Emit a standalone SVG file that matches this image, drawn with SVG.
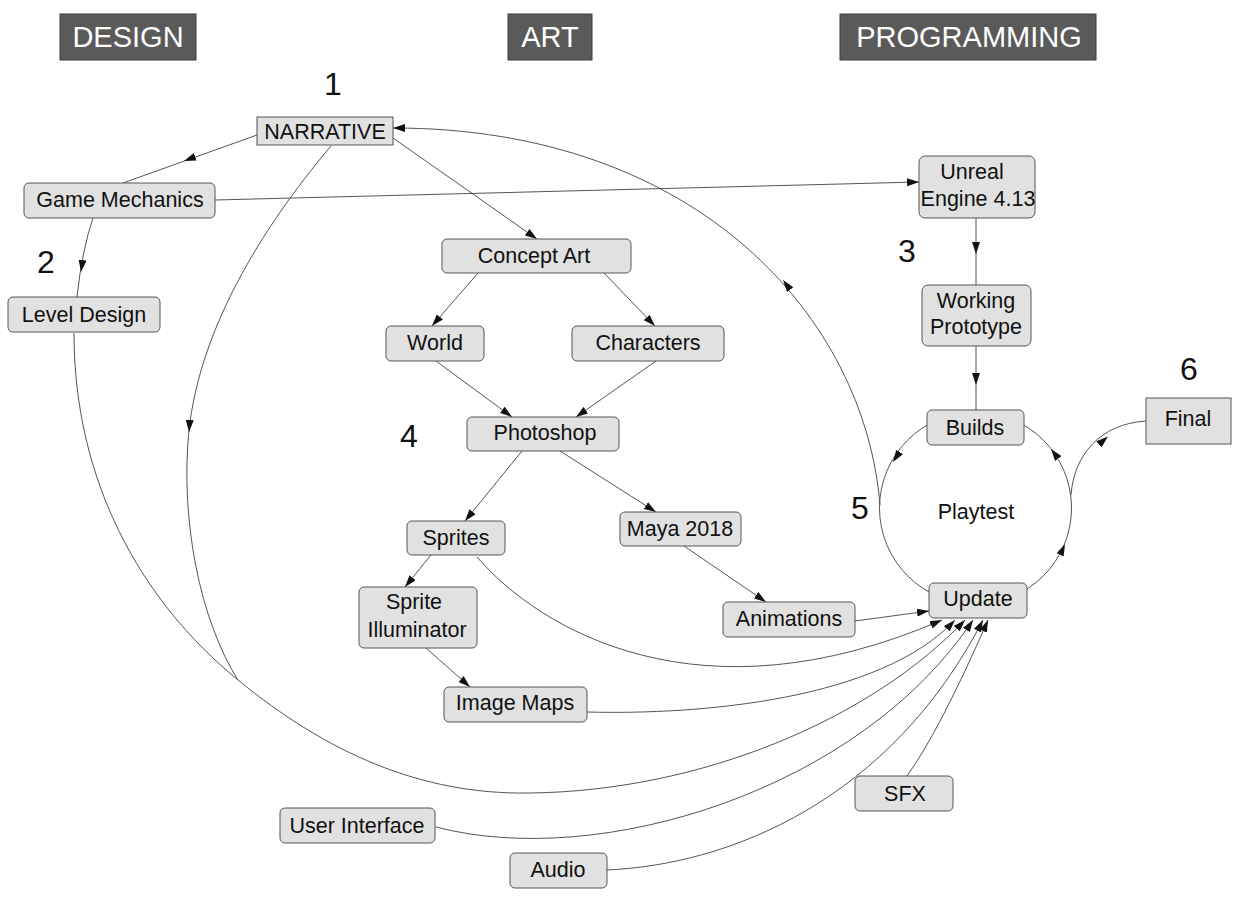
<svg xmlns="http://www.w3.org/2000/svg" width="1233" height="899" viewBox="0 0 1233 899">
<style>
text{font-family:"Liberation Sans",Arial,sans-serif;fill:#111;}
.hdr rect{fill:#5a5a5a;stroke:#3c3c3c;stroke-width:1}
.hdr text{fill:#fff;font-size:29px;text-anchor:middle}
.num{font-size:32px;text-anchor:middle}
.nd rect{fill:#e1e1e1;stroke:#555;stroke-width:1}
.nd text{font-size:21.5px;text-anchor:middle}
.c path{fill:none;stroke:#555;stroke-width:1}
.c .m{stroke:none;marker-end:url(#ah)}
.c .e{marker-end:url(#ah)}
</style>
<defs>
<marker id="ah" viewBox="0 0 12 8" refX="12" refY="4" markerWidth="12" markerHeight="8" markerUnits="userSpaceOnUse" orient="auto"><path d="M0,0 L12,4 L0,8 z" fill="#111"/></marker>
</defs>
<rect width="1233" height="899" fill="#fff"/>

<g id="connectors" class="c">
<path d="M257,135 L123,183"/><path class="m" d="M199,155.5 L184,161"/>
<path class="e" d="M393,138 L537,239"/>
<path class="e" d="M215,200 L919,182"/>
<path d="M93,218 Q82,250 77,297"/><path class="m" d="M83,257 L81,272"/>
<path d="M331,146 C260,230 200,330 189,430 C180,520 200,620 238,680"/><path class="m" d="M190,416 L189,432"/>
<path class="e" d="M74,333 C74,480 140,600 238,680 C326,752 420,795 530,793 C700,791 870,720 965,620"/>
<path class="e" d="M478,273 L432,326"/>
<path class="e" d="M604,273 L655,326"/>
<path class="e" d="M436,361 L512,417"/>
<path class="e" d="M656,361 L576,417"/>
<path class="e" d="M522,451 L465,521"/>
<path class="e" d="M560,451 L656,512"/>
<path class="e" d="M431,555 L405,587"/>
<path class="e" d="M426,648 L470,687"/>
<path class="e" d="M684,546 L766,602"/>
<path class="e" d="M855,621 L929,611"/>
<path class="e" d="M477,557 C540,630 700,725 942,620"/>
<path class="e" d="M587,712 C700,715 880,700 955,620"/>
<path class="e" d="M436,827 C600,870 860,790 973,620"/>
<path class="e" d="M606,870 C730,865 890,800 983,620"/>
<path class="e" d="M907,776 Q940,730 988,620"/>
<path d="M976,218 L976,285"/><path class="m" d="M976,238 L976,254"/>
<path d="M976,346 L976,410"/><path class="m" d="M976,368 L976,385"/>
<path d="M975.5,412 A96,96 0 0 0 975.5,604"/><path class="m" d="M900.6,450.5 L893,462"/>
<path d="M975.5,604 A96,96 0 0 0 975.5,412"/><path class="m" d="M1059.2,556.8 L1065,544"/><path class="m" d="M1059.4,460 L1051,449"/>
<path d="M1071,495 C1074,455 1100,424 1146,421"/><path class="m" d="M1097.5,445.5 L1108,436.5"/>
<path class="e" d="M880,505 C865,320 700,128 393,128"/><path class="m" d="M791.4,291.2 L783,280"/>
</g>

<g id="hdr-design" class="hdr"><rect x="60" y="14" width="136" height="46"/><text x="128" y="47">DESIGN</text></g>
<g id="hdr-art" class="hdr"><rect x="508" y="14" width="84" height="46"/><text x="550" y="47">ART</text></g>
<g id="hdr-programming" class="hdr"><rect x="840" y="14" width="256" height="46"/><text x="969" y="47">PROGRAMMING</text></g>

<g id="numbers">
<text class="num" x="333" y="95">1</text>
<text class="num" x="46" y="273">2</text>
<text class="num" x="907" y="262">3</text>
<text class="num" x="409" y="447">4</text>
<text class="num" x="860" y="519">5</text>
<text class="num" x="1189" y="380">6</text>
</g>

<g id="n-narrative" class="nd"><rect x="257" y="117" width="136" height="28"/><text x="325" y="139">NARRATIVE</text></g>
<g id="n-game-mechanics" class="nd"><rect x="24" y="183" width="191" height="35" rx="5"/><text x="120" y="207">Game Mechanics</text></g>
<g id="n-level-design" class="nd"><rect x="8" y="297" width="152" height="35" rx="5"/><text x="84" y="322">Level Design</text></g>
<g id="n-concept-art" class="nd"><rect x="442" y="239" width="189" height="34" rx="5"/><text x="534" y="263">Concept Art</text></g>
<g id="n-world" class="nd"><rect x="386" y="326" width="98" height="35" rx="5"/><text x="435" y="350">World</text></g>
<g id="n-characters" class="nd"><rect x="572" y="326" width="152" height="35" rx="5"/><text x="648" y="350">Characters</text></g>
<g id="n-photoshop" class="nd"><rect x="467" y="417" width="152" height="34" rx="5"/><text x="545" y="440">Photoshop</text></g>
<g id="n-sprites" class="nd"><rect x="407" y="521" width="98" height="34" rx="5"/><text x="456" y="545">Sprites</text></g>
<g id="n-maya" class="nd"><rect x="620" y="512" width="121" height="34" rx="5"/><text x="680" y="536">Maya 2018</text></g>
<g id="n-sprite-illuminator" class="nd"><rect x="359" y="587" width="118" height="61" rx="5"/><text x="414" y="609">Sprite</text><text x="417" y="637">Illuminator</text></g>
<g id="n-animations" class="nd"><rect x="723" y="602" width="132" height="35" rx="5"/><text x="789" y="626">Animations</text></g>
<g id="n-image-maps" class="nd"><rect x="444" y="687" width="143" height="35" rx="5"/><text x="515" y="710">Image Maps</text></g>
<g id="n-unreal" class="nd"><rect x="919" y="156" width="116" height="62" rx="6"/><text x="972" y="179">Unreal</text><text x="978" y="206">Engine 4.13</text></g>
<g id="n-working-prototype" class="nd"><rect x="922" y="285" width="109" height="61" rx="6"/><text x="976" y="308">Working</text><text x="976" y="334">Prototype</text></g>
<g id="n-builds" class="nd"><rect x="927" y="410" width="97" height="35" rx="5"/><text x="975" y="435">Builds</text></g>
<g id="n-playtest"><text x="976" y="519" style="font-size:21.5px;text-anchor:middle">Playtest</text></g>
<g id="n-update" class="nd"><rect x="929" y="583" width="98" height="35" rx="5"/><text x="978" y="606">Update</text></g>
<g id="n-final" class="nd"><rect x="1146" y="398" width="85" height="46"/><text x="1188" y="426">Final</text></g>
<g id="n-sfx" class="nd"><rect x="855" y="776" width="98" height="35" rx="5"/><text x="905" y="801">SFX</text></g>
<g id="n-user-interface" class="nd"><rect x="280" y="808" width="155" height="35" rx="5"/><text x="357" y="833">User Interface</text></g>
<g id="n-audio" class="nd"><rect x="510" y="853" width="97" height="35" rx="5"/><text x="558" y="877">Audio</text></g>
</svg>
